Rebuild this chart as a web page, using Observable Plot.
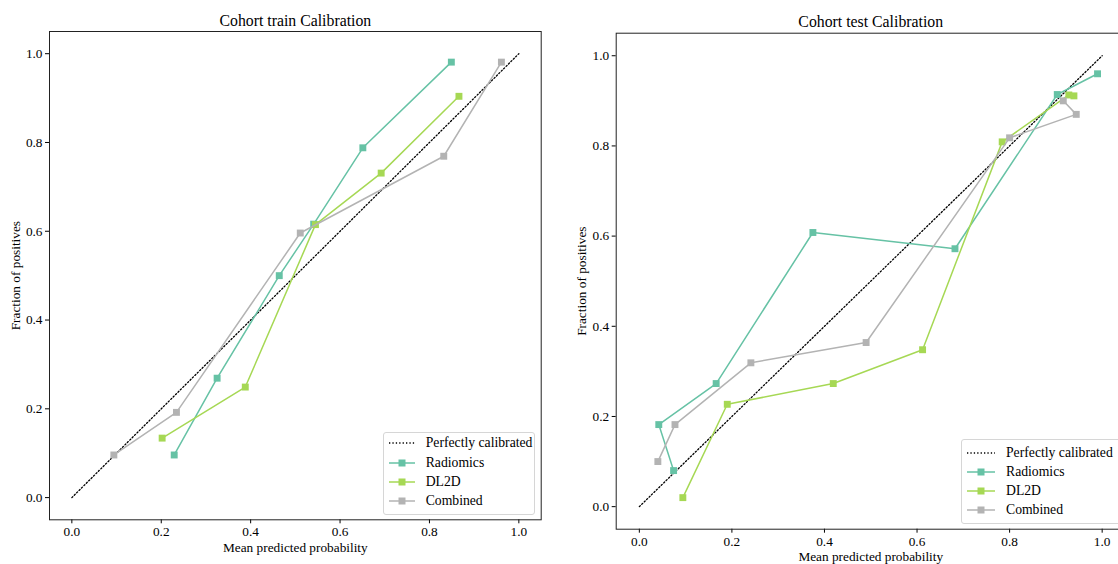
<!DOCTYPE html>
<html><head><meta charset="utf-8">
<script src="https://cdn.jsdelivr.net/npm/d3@7"></script>
<script src="https://cdn.jsdelivr.net/npm/@observablehq/plot@0.6"></script>
<style>
html,body{margin:0;padding:0;background:#fff;}
body{width:1118px;height:564px;overflow:hidden;position:relative;font-family:"Liberation Serif","Times New Roman",serif;}
svg, svg text{font-family:"Liberation Serif","Times New Roman",serif !important;}
.panel{position:absolute;top:0;}
.legend{position:absolute;border:1px solid #d6d6d6;border-radius:3px;background:rgba(255,255,255,0.85);box-sizing:border-box;}
.row{position:absolute;left:0;height:18px;display:flex;align-items:center;font-size:13.7px;color:#000;white-space:nowrap;}
.row svg{display:block;}
</style>
</head><body>
<script>
// ---- data ----
const seriesNames = ["Radiomics", "DL2D", "Combined"];
const seriesColors = ["#66c2a5", "#a6d854", "#b3b3b3"];
const refLabel = "Perfectly calibrated";
const refX = [0, 1];
const refY = [0, 1];
const tickValues = [0, 0.2, 0.4, 0.6, 0.8, 1.0];

const trainTitle = "Cohort train Calibration";
const trainRadiomicsX = [0.229, 0.325, 0.464, 0.541, 0.651, 0.849];
const trainRadiomicsY = [0.096, 0.269, 0.500, 0.616, 0.788, 0.981];
const trainDL2DX = [0.202, 0.388, 0.545, 0.692, 0.866];
const trainDL2DY = [0.134, 0.249, 0.615, 0.731, 0.904];
const trainCombinedX = [0.094, 0.234, 0.511, 0.832, 0.961];
const trainCombinedY = [0.096, 0.192, 0.596, 0.769, 0.981];

const testTitle = "Cohort test Calibration";
const testRadiomicsX = [0.074, 0.042, 0.166, 0.375, 0.682, 0.903, 0.990];
const testRadiomicsY = [0.080, 0.182, 0.273, 0.608, 0.572, 0.914, 0.960];
const testDL2DX = [0.094, 0.190, 0.419, 0.612, 0.784, 0.928, 0.939];
const testDL2DY = [0.020, 0.227, 0.273, 0.348, 0.809, 0.913, 0.911];
const testCombinedX = [0.040, 0.077, 0.241, 0.490, 0.800, 0.944, 0.916];
const testCombinedY = [0.100, 0.182, 0.319, 0.364, 0.818, 0.870, 0.900];

const xLabel = "Mean predicted probability";
const yLabel = "Fraction of positives";

// ---- build ----
function rows(xs, ys) { return xs.map((x, i) => ({x, y: ys[i]})); }

function makePanel(title, series, layout) {
  const marks = [
    Plot.frame({stroke: "#222", strokeWidth: 1}),
    Plot.line(rows(refX, refY), {x: "x", y: "y", stroke: "#000", strokeWidth: 1.3, strokeDasharray: "1.3,2.1"})
  ];
  series.forEach((s, i) => {
    const d = rows(s[0], s[1]);
    marks.push(Plot.line(d, {x: "x", y: "y", stroke: seriesColors[i], strokeWidth: 1.5}));
    marks.push(Plot.dot(d, {x: "x", y: "y", symbol: "square", r: 3.9, fill: seriesColors[i], stroke: "none"}));
  });
  marks.push(Plot.text([title], {frameAnchor: "top", dy: -6, lineAnchor: "bottom", fontSize: 15.8, fill: "#000", text: d => d}));
  return Plot.plot({
    width: layout.width,
    height: 564,
    marginLeft: layout.ml,
    marginRight: layout.mr,
    marginTop: layout.mt,
    marginBottom: layout.mb,
    style: {fontFamily: "Liberation Serif, serif", fontSize: "13.3px", color: "#000", background: "transparent", overflow: "visible"},
    x: {domain: [-0.05, 1.05], ticks: tickValues, tickFormat: d3.format(".1f"), tickSize: 4, tickPadding: 3, label: xLabel, labelAnchor: "center", labelArrow: "none", labelOffset: layout.xlo},
    y: {domain: [-0.05, 1.05], ticks: tickValues, tickFormat: d3.format(".1f"), tickSize: 4, tickPadding: 3, label: yLabel, labelAnchor: "center", labelArrow: "none", labelOffset: layout.ylo},
    marks
  });
}

function addPanel(el, left) {
  el.classList.add("panel");
  el.style.left = left + "px";
  document.body.appendChild(el);
}

function addLegend(box) {
  const lg = d3.select(document.body).append("div").attr("class", "legend")
    .style("left", box.left + "px").style("top", box.top + "px")
    .style("width", box.width + "px").style("height", box.height + "px");
  const entries = [{name: refLabel, color: "#000", ref: true}].concat(seriesNames.map((n, i) => ({name: n, color: seriesColors[i]})));
  entries.forEach((e, i) => {
    const r = lg.append("div").attr("class", "row").style("top", (box.firstRow + i * box.step - 9) + "px");
    const sv = r.append("svg").attr("width", box.swatchW).attr("height", 18).style("margin-left", box.padL + "px").style("margin-right", box.gap + "px");
    if (e.ref) {
      sv.append("line").attr("x1", 0).attr("x2", box.swatchW).attr("y1", 9).attr("y2", 9)
        .attr("stroke", "#000").attr("stroke-width", 1.3).attr("stroke-dasharray", "1.3,2.1");
    } else {
      sv.append("line").attr("x1", 0).attr("x2", box.swatchW).attr("y1", 9).attr("y2", 9)
        .attr("stroke", e.color).attr("stroke-width", 1.5);
      sv.append("rect").attr("x", box.swatchW / 2 - 3.5).attr("y", 5.5).attr("width", 7).attr("height", 7).attr("fill", e.color);
    }
    r.append("span").text(e.name);
  });
}

const left = makePanel(trainTitle, [[trainRadiomicsX, trainRadiomicsY], [trainDL2DX, trainDL2DY], [trainCombinedX, trainCombinedY]],
  {width: 560, ml: 49, mr: 19.3, mt: 31, mb: 44.7, xlo: 32, ylo: 39});
addPanel(left, 0);

const right = makePanel(testTitle, [[testRadiomicsX, testRadiomicsY], [testDL2DX, testDL2DY], [testCombinedX, testCombinedY]],
  {width: 584, ml: 55.7, mr: 19.2, mt: 32.7, mb: 35.3, xlo: 32, ylo: 40});
addPanel(right, 560);

addLegend({left: 382.7, top: 431.7, width: 152.5, height: 83, firstRow: 10.6, step: 19.3, swatchW: 26, padL: 5, gap: 11});
addLegend({left: 961, top: 439.3, width: 170, height: 85, firstRow: 12.4, step: 19.2, swatchW: 28, padL: 5, gap: 11});
</script>
</body></html>
